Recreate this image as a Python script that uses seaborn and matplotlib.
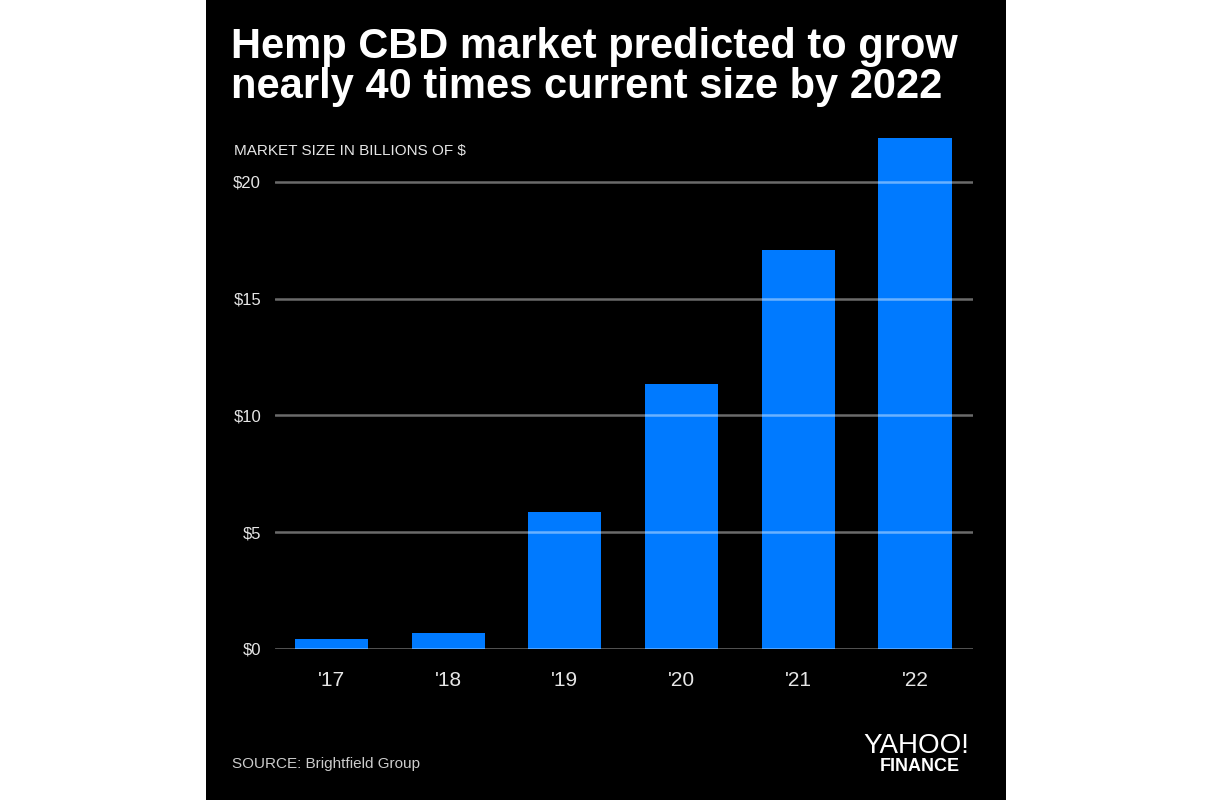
import numpy as np
import pandas as pd
import matplotlib
matplotlib.use('Agg')
import matplotlib.pyplot as plt
import seaborn as sns
from matplotlib.patches import Rectangle

# data
years = ["'17", "'18", "'19", "'20", "'21", "'22"]
market_size = [0.43, 0.68, 5.87, 11.35, 17.1, 21.9]   # billions of $
ytick_vals = [0, 5, 10, 15, 20]
ytick_labels = ['\\$0', '\\$5', '\\$10', '\\$15', '\\$20']

df = pd.DataFrame({'year': years, 'size': market_size})

sns.set_style("dark")
plt.rcParams['font.family'] = ['Liberation Sans', 'DejaVu Sans']

fig = plt.figure(figsize=(12.12, 8), dpi=100)
fig.patch.set_facecolor('white')
# black square panel in the middle
fig.patches.append(Rectangle((206 / 1212, 0), 800 / 1212, 1, transform=fig.transFigure,
                             facecolor='black', edgecolor='none', zorder=-5))

ax = fig.add_axes([275 / 1212, 1 - 649 / 800, 698 / 1212, 525.4 / 800])
ax.set_zorder(2)
ax.set_facecolor('none')
sns.barplot(data=df, x='year', y='size', color='#007aff', saturation=1,
            width=0.626, edgecolor='none', linewidth=0, ax=ax)
for p in ax.patches:
    p.set_zorder(1)

ax.set_xlim(-0.484, 5.497)
ax.set_ylim(0, 22.5)
ax.set_yticks(ytick_vals)
ax.set_yticklabels(ytick_labels)
ax.set_xlabel('')
ax.set_ylabel('')
for s in ax.spines.values():
    s.set_visible(False)

# gridlines drawn over the bars, semi transparent
ax.set_axisbelow(False)
ax.xaxis.grid(False)
ax.yaxis.grid(True, color='white', alpha=0.42, lw=1.8)
for gl in ax.get_ygridlines():
    gl.set_zorder(5)

ax.tick_params(axis='y', length=0, pad=10, labelsize=12, labelcolor='#e6e6e6')
ax.tick_params(axis='x', length=0, pad=16, labelsize=15, labelcolor='#e6e6e6')

# title
fig.text(231 / 1212, 1 - 58 / 800, 'Hemp CBD market predicted to grow',
         color='white', fontsize=30, fontweight='bold', ha='left', va='baseline')
fig.text(231 / 1212, 1 - 98 / 800, 'nearly 40 times current size by 2022',
         color='white', fontsize=30, fontweight='bold', ha='left', va='baseline')

# axis caption
fig.text(234 / 1212, 1 - 155 / 800, 'MARKET SIZE IN BILLIONS OF \\$',
         color='#e6e6e6', fontsize=11, ha='left', va='baseline')

# source and logo
fig.text(232 / 1212, 1 - 768 / 800, 'SOURCE: Brightfield Group',
         color='#cccccc', fontsize=11, ha='left', va='baseline')
fig.text(969 / 1212, 1 - 753 / 800, 'YAHOO!', color='white', fontsize=20,
         fontweight='light', ha='right', va='baseline')
fig.text(960 / 1212, 1 - 771 / 800, 'FINANCE', color='white', fontsize=13,
         fontweight='bold', ha='right', va='baseline')

plt.savefig('out.png', dpi=100, facecolor=fig.get_facecolor())
